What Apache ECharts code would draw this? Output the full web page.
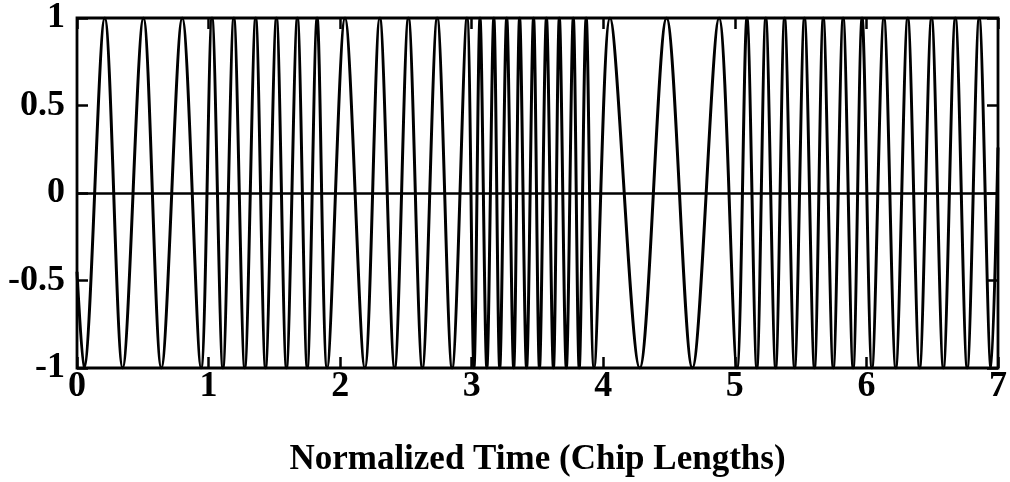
<!DOCTYPE html>
<html>
<head>
<meta charset="utf-8">
<script src="https://cdn.jsdelivr.net/npm/echarts@6/dist/echarts.min.js"></script>
<style>
  html, body { margin: 0; padding: 0; background: #fff; }
  #main { width: 1010px; height: 482px; }
</style>
</head>
<body>
<div id="main"></div>
<script>
// 波形极值点 (时间: 码片长度)
var waveT = [0, 0.053, 0.211, 0.347, 0.505, 0.641, 0.800, 0.943,
  1.026, 1.109, 1.192, 1.275, 1.358, 1.433, 1.516, 1.592, 1.675, 1.750, 1.825, 1.901,
  2.037, 2.188, 2.301, 2.414, 2.519, 2.625, 2.738, 2.851, 2.964,
  3.017, 3.063, 3.115, 3.168, 3.213, 3.266, 3.319, 3.364, 3.417, 3.470, 3.515, 3.568,
  3.621, 3.666, 3.719, 3.772, 3.817, 3.870, 3.930,
  4.051, 4.277, 4.481, 4.677, 4.880,
  5.016, 5.092, 5.167, 5.235, 5.310, 5.378, 5.454, 5.529, 5.605, 5.672, 5.748, 5.823, 5.899, 5.967,
  6.042, 6.133, 6.223, 6.314, 6.404, 6.495, 6.585, 6.676, 6.766, 6.857, 6.947, 7];
var waveV = [-0.45, -1, 1, -1, 1, -1, 1, -1,
  1, -1, 1, -1, 1, -1, 1, -1, 1, -1, 1, -1,
  1, -1, 1, -1, 1, -1, 1, -1, 1,
  -1, 1, -1, 1, -1, 1, -1, 1, -1, 1, -1, 1,
  -1, 1, -1, 1, -1, 1, -1,
  1, -1, 1, -1, 1,
  -1, 1, -1, 1, -1, 1, -1, 1, -1, 1, -1, 1, -1, 1,
  -1, 1, -1, 1, -1, 1, -1, 1, -1, 1, -1, 0.26];
var xTicks = [0, 7, 1];     // min, max, interval
var yTicks = [-1, 1, 0.5];
var xTitle = 'Normalized Time (Chip Lengths)';

var seriesData = [];
for (var i = 0; i < waveT.length; i++) {
  seriesData.push([waveT[i], waveV[i]]);
}

var font = 'Liberation Serif';
var tickStyle = { show: true, inside: true, length: 11, lineStyle: { color: '#000', width: 2.5 } };
var noLine = { show: false, onZero: false };

var option = {
  animation: false,
  backgroundColor: '#fff',
  grid: {
    left: 77, right: 5, top: 17, bottom: 114,
    show: true, borderColor: '#000', borderWidth: 2.8
  },
  xAxis: [
    {
      type: 'value', min: xTicks[0], max: xTicks[1], interval: xTicks[2],
      position: 'bottom',
      name: xTitle, nameLocation: 'middle', nameGap: 74,
      nameTextStyle: { color: '#000', fontFamily: font, fontWeight: 'bold', fontSize: 35 },
      axisLine: noLine,
      axisTick: tickStyle,
      splitLine: { show: false },
      axisLabel: { color: '#000', fontFamily: font, fontWeight: 'bold', fontSize: 36, margin: 1 }
    },
    {
      type: 'value', min: xTicks[0], max: xTicks[1], interval: xTicks[2],
      position: 'top',
      axisLine: noLine,
      axisTick: tickStyle,
      splitLine: { show: false },
      axisLabel: { show: false }
    }
  ],
  yAxis: [
    {
      type: 'value', min: yTicks[0], max: yTicks[1], interval: yTicks[2],
      position: 'left',
      axisLine: noLine,
      axisTick: tickStyle,
      splitLine: { show: false },
      axisLabel: { color: '#000', fontFamily: font, fontWeight: 'bold', fontSize: 36, margin: 12 }
    },
    {
      type: 'value', min: yTicks[0], max: yTicks[1], interval: yTicks[2],
      position: 'right',
      axisLine: noLine,
      axisTick: tickStyle,
      splitLine: { show: false },
      axisLabel: { show: false }
    }
  ],
  series: [
    {
      type: 'line',
      data: seriesData,
      smooth: 0.32,
      showSymbol: false,
      lineStyle: { color: '#000', width: 3 },
      markLine: {
        silent: true,
        symbol: 'none',
        label: { show: false },
        lineStyle: { color: '#000', width: 2.6, type: 'solid' },
        data: [{ yAxis: 0 }]
      }
    }
  ]
};

var myChart = echarts.init(document.getElementById('main'));
myChart.setOption(option);
</script>
</body>
</html>
